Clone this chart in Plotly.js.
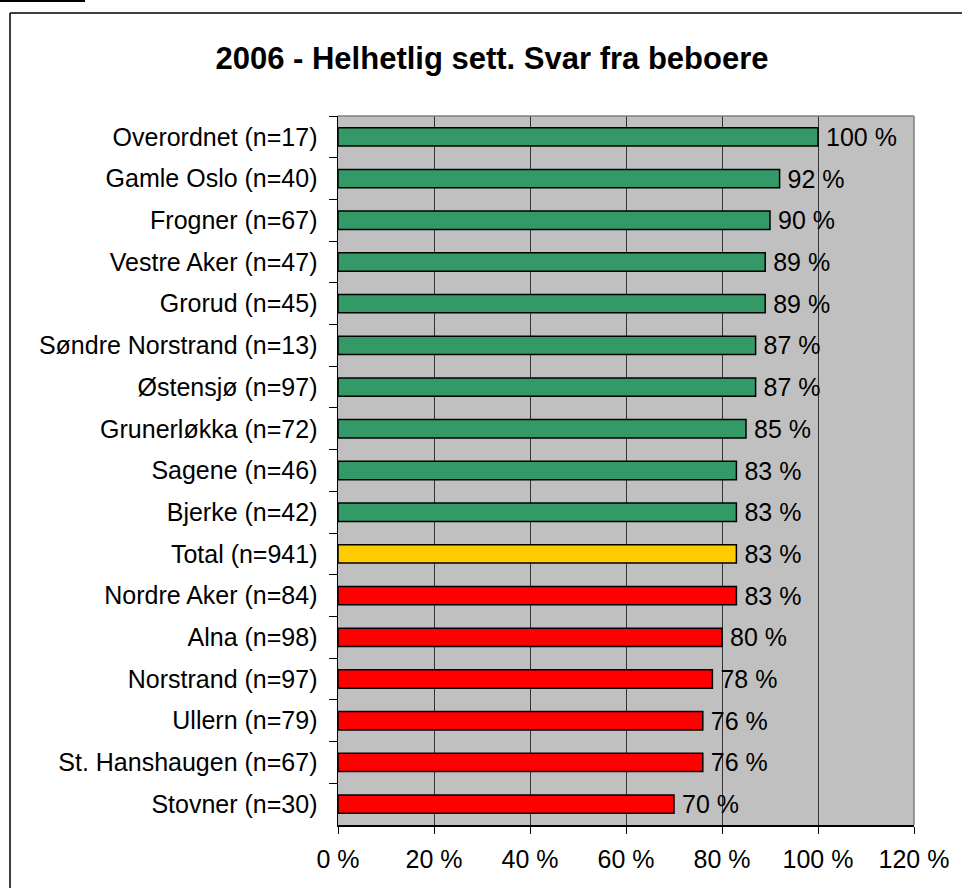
<!DOCTYPE html>
<html>
<head>
<meta charset="utf-8">
<script src="https://cdn.plot.ly/plotly-3.0.1.min.js"></script>
<style>
html,body{margin:0;padding:0;background:#fff;}
#chart{width:962px;height:888px;}
</style>
</head>
<body>
<div id="chart"></div>
<script>
const categories = [
  "Overordnet (n=17)",
  "Gamle Oslo (n=40)",
  "Frogner (n=67)",
  "Vestre Aker (n=47)",
  "Grorud (n=45)",
  "Søndre Norstrand (n=13)",
  "Østensjø (n=97)",
  "Grunerløkka (n=72)",
  "Sagene (n=46)",
  "Bjerke (n=42)",
  "Total (n=941)",
  "Nordre Aker (n=84)",
  "Alna (n=98)",
  "Norstrand (n=97)",
  "Ullern (n=79)",
  "St. Hanshaugen (n=67)",
  "Stovner (n=30)"
];
const values = [100, 92, 90, 89, 89, 87, 87, 85, 83, 83, 83, 83, 80, 78, 76, 76, 70];
const groups = ["above","above","above","above","above","above","above","above","above","above","total","below","below","below","below","below","below"];
const xTickValues = [0, 20, 40, 60, 80, 100, 120];
const xTickLabels = ["0 %", "20 %", "40 %", "60 %", "80 %", "100 %", "120 %"];
const titleText = "2006 - Helhetlig sett. Svar fra beboere";

const groupColors = {above: "#339966", total: "#FFCC00", below: "#FF0000"};
const FONT = "Arial, 'Liberation Sans', sans-serif";

const W = 962, H = 888;
const L = 338, R = 914, T = 116, B = 825;
const px = x => (x - L) / (R - L);
const py = y => (B - y) / (B - T);

const trace = {
  type: "bar",
  orientation: "h",
  x: values,
  y: categories,
  marker: {
    color: groups.map(g => groupColors[g]),
    line: {color: "#000000", width: 1.5}
  },
  text: values.map(v => "\u2009" + v + " %"),
  textposition: "outside",
  constraintext: "none",
  cliponaxis: false,
  textfont: {family: FONT, size: 25, color: "#000"},
  hoverinfo: "skip",
  width: 0.44
};

const layout = {
  width: W, height: H,
  margin: {l: L, r: W - R, t: T, b: H - B, pad: 0},
  paper_bgcolor: "#ffffff",
  plot_bgcolor: "#C0C0C0",
  showlegend: false,
  title: {
    text: "<b>" + titleText + "</b>",
    font: {family: FONT, size: 31, color: "#000"},
    xref: "container", x: 492 / W, xanchor: "center",
    yref: "container", y: 1 - 58 / H, yanchor: "middle"
  },
  xaxis: {
    range: [0, 120],
    tickvals: xTickValues,
    ticktext: xTickLabels,
    showgrid: true,
    gridcolor: "#333333",
    gridwidth: 1,
    zeroline: false,
    showline: true,
    linecolor: "#000000",
    linewidth: 1.5,
    ticks: "outside",
    ticklen: 7,
    tickcolor: "#000",
    tickfont: {family: FONT, size: 25, color: "#000"},
    ticklabelstandoff: 4,
    fixedrange: true
  },
  yaxis: {
    type: "category",
    autorange: "reversed",
    showgrid: false,
    zeroline: false,
    showline: true,
    linecolor: "#000000",
    linewidth: 1.5,
    ticks: "outside",
    tickson: "boundaries",
    ticklen: 8,
    tickcolor: "#000",
    tickfont: {family: FONT, size: 25, color: "#000"},
    ticklabelstandoff: 14,
    fixedrange: true
  },
  shapes: [
    {type: "line", xref: "paper", yref: "paper", x0: 0, x1: 1, y0: 1, y1: 1, line: {color: "#808080", width: 1.5}},
    {type: "line", xref: "paper", yref: "paper", x0: 1, x1: 1, y0: 0, y1: 1, line: {color: "#808080", width: 1.5}},
    {type: "line", xref: "paper", yref: "paper", x0: px(10), x1: px(964), y0: py(13), y1: py(13), line: {color: "#000", width: 1.5}, layer: "above"},
    {type: "line", xref: "paper", yref: "paper", x0: px(10), x1: px(10), y0: py(13), y1: py(890), line: {color: "#000", width: 1.5}, layer: "above"},
    {type: "rect", xref: "paper", yref: "paper", x0: px(0), x1: px(85), y0: py(0), y1: py(2), fillcolor: "#000", line: {width: 0}, layer: "above"}
  ]
};

Plotly.newPlot("chart", [trace], layout, {displayModeBar: false, staticPlot: true});
</script>
</body>
</html>
